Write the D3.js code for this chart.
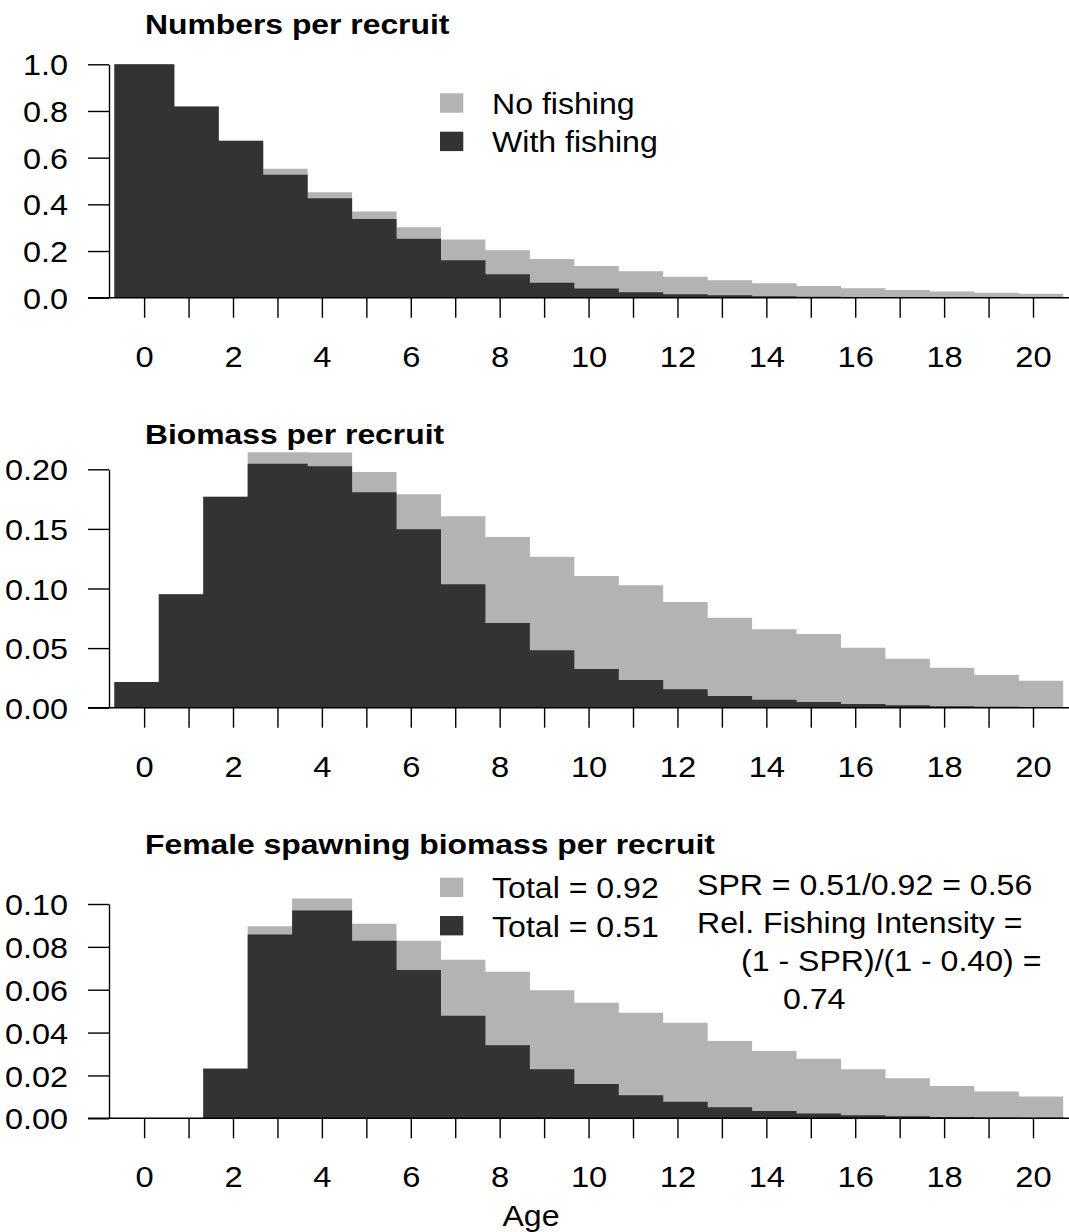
<!DOCTYPE html>
<html>
<head>
<meta charset="utf-8">
<script src="https://cdn.jsdelivr.net/npm/d3@7"></script>
<style>
  html, body { margin: 0; padding: 0; background: #ffffff; }
  svg { display: block; font-family: "Liberation Sans", Arial, Helvetica, sans-serif; }
</style>
</head>
<body>
<svg id="chart" width="1069" height="1232"></svg>
<script>
// ---------------- DATA ----------------
const ages = [0,1,2,3,4,5,6,7,8,9,10,11,12,13,14,15,16,17,18,19,20];

const numbersNoFishing = [1.000, 0.819, 0.672, 0.552, 0.452, 0.369, 0.302, 0.249, 0.203, 0.166, 0.136,
                          0.113, 0.090, 0.075, 0.062, 0.050, 0.040, 0.033, 0.027, 0.021, 0.017];
const numbersFishing   = [1.000, 0.819, 0.672, 0.527, 0.426, 0.337, 0.253, 0.160, 0.100, 0.064, 0.039,
                          0.023, 0.015, 0.010, 0.006, 0.004, 0.0025, 0.0015, 0.0010, 0.0007, 0.0005];

const biomassNoFishing = [0.0216, 0.0951, 0.1770, 0.2147, 0.2143, 0.1977, 0.1790, 0.1606, 0.1432, 0.1267, 0.1105,
                          0.1027, 0.0887, 0.0755, 0.0658, 0.0618, 0.0503, 0.0411, 0.0336, 0.0274, 0.0227];
const biomassFishing   = [0.0216, 0.0951, 0.1770, 0.2047, 0.2025, 0.1807, 0.1497, 0.1035, 0.0711, 0.0481, 0.0325,
                          0.0232, 0.0154, 0.0098, 0.0067, 0.0048, 0.0030, 0.0020, 0.0013, 0.0009, 0.0006];

const spawnNoFishing   = [0, 0, 0.0233, 0.0896, 0.1026, 0.0908, 0.0829, 0.0740, 0.0684, 0.0597, 0.0539,
                          0.0493, 0.0446, 0.0361, 0.0314, 0.0278, 0.0229, 0.0187, 0.0151, 0.0125, 0.0102];
const spawnFishing     = [0, 0, 0.0231, 0.0858, 0.0970, 0.0829, 0.0692, 0.0479, 0.0341, 0.0229, 0.0160,
                          0.0108, 0.0077, 0.0051, 0.0034, 0.0022, 0.0014, 0.0009, 0.0006, 0.0004, 0.0003];

const yTicksNumbers = [0, 0.2, 0.4, 0.6, 0.8, 1.0];
const yTicksBiomass = [0, 0.05, 0.10, 0.15, 0.20];
const yTicksSpawn   = [0, 0.02, 0.04, 0.06, 0.08, 0.10];
const xTickLabels   = [0, 2, 4, 6, 8, 10, 12, 14, 16, 18, 20];

const titles = ["Numbers per recruit", "Biomass per recruit", "Female spawning biomass per recruit"];
const legend1 = ["No fishing", "With fishing"];
const legend3 = ["Total = 0.92", "Total = 0.51"];
const sprText = ["SPR = 0.51/0.92 = 0.56", "Rel. Fishing Intensity =", "(1 - SPR)/(1 - 0.40) =", "0.74"];
const xAxisTitle = "Age";

// ---------------- STYLE / LAYOUT ----------------
const GRAY = "#b3b3b3", DARK = "#333333";
const W = 1069, H = 1232;
const svg = d3.select("#chart");
svg.append("rect").attr("width", W).attr("height", H).attr("fill", "#fff");

const x = d3.scaleLinear().domain([-0.79, 20.81]).range([109, 1069]);

function txt(g, px, py, s, o = {}) {
  const size = o.size || 30, sx = o.sx || 1.07;
  return g.append("text")
    .attr("transform", `translate(${px},${py}) scale(${sx},1)`)
    .attr("font-size", size)
    .attr("font-weight", o.weight || "normal")
    .attr("text-anchor", o.anchor || "start")
    .attr("fill", "#000")
    .text(s);
}

const panels = [
  { noF: numbersNoFishing, f: numbersFishing, ticks: yTicksNumbers, fmt: d3.format(".1f"),
    y0: 297.7, yTopTick: 64.3, tickMax: 1.0, clipTop: 42.3, titleY: 34 },
  { noF: biomassNoFishing, f: biomassFishing, ticks: yTicksBiomass, fmt: d3.format(".2f"),
    y0: 707.7, yTopTick: 469.3, tickMax: 0.20, clipTop: 452.3, titleY: 444 },
  { noF: spawnNoFishing, f: spawnFishing, ticks: yTicksSpawn, fmt: d3.format(".2f"),
    y0: 1118.3, yTopTick: 904, tickMax: 0.10, clipTop: 862.9, titleY: 854 }
];

const AXW = 1.4;

panels.forEach((p, k) => {
  const y = d3.scaleLinear().domain([0, p.tickMax]).range([p.y0, p.yTopTick]);
  const g = svg.append("g");

  const clipId = "clip" + k;
  svg.append("clipPath").attr("id", clipId)
    .append("rect").attr("x", 109).attr("y", p.clipTop).attr("width", W - 109).attr("height", p.y0 - p.clipTop);

  // bar edges (peak bar slightly wider, as in the original rendering)
  const peak = p.f.indexOf(d3.max(p.f));
  const edge = j => ages[0] - 0.5 + j + (j <= peak ? -0.17 : 0.18);

  // step polygons: one per series, built from per-age values
  const stepPts = vals => ages.flatMap((a, i) => [[edge(i), vals[i]], [edge(i + 1), vals[i]]]);
  const area = d3.area().x(d => x(d[0])).y0(y(0)).y1(d => y(d[1]));

  const bars = g.append("g").attr("clip-path", `url(#${clipId})`);
  [[p.noF, GRAY], [p.f, DARK]].forEach(([vals, col]) => {
    bars.append("path").datum(stepPts(vals)).attr("d", area).attr("fill", col);
  });

  // baseline
  g.append("line").attr("x1", 88).attr("x2", W).attr("y1", p.y0).attr("y2", p.y0)
    .attr("stroke", "#000").attr("stroke-width", AXW);

  // y axis
  const ya = g.append("g").attr("transform", `translate(109,0)`)
    .call(d3.axisLeft(y).tickValues(p.ticks).tickSize(21).tickSizeOuter(0).tickFormat(p.fmt));
  ya.select(".domain").attr("stroke", "#000").attr("stroke-width", AXW);
  ya.selectAll(".tick line").attr("stroke", "#000").attr("stroke-width", AXW);
  ya.selectAll(".tick text")
    .attr("x", 0).attr("dy", null).attr("y", 0)
    .attr("transform", "translate(-41,10.6) scale(1.08,1)")
    .attr("font-size", 30).attr("font-family", null).attr("fill", "#000");

  // x axis
  const xa = g.append("g").attr("transform", `translate(0,${p.y0})`)
    .call(d3.axisBottom(x).tickValues(ages).tickSize(20).tickSizeOuter(0)
      .tickFormat(d => xTickLabels.includes(d) ? d : ""));
  xa.select(".domain").remove();
  xa.selectAll(".tick line").attr("stroke", "#000").attr("stroke-width", AXW);
  xa.selectAll(".tick text")
    .attr("y", 69).attr("dy", null)
    .attr("transform", "scale(1.09,1)")
    .attr("font-size", 30).attr("font-family", null).attr("fill", "#000");

  // title
  txt(g, 145, p.titleY, titles[k], { size: 27, weight: "bold", sx: 1.18 });
});

// legend panel 1
const lg = svg.append("g");
[[GRAY, 93.3, 114], [DARK, 131.7, 151.7]].forEach(([c, ry, ty], i) => {
  lg.append("rect").attr("x", 440).attr("y", ry).attr("width", 23.3).attr("height", 19.4).attr("fill", c);
  txt(lg, 492, ty, legend1[i]);
});

// legend panel 3
[[GRAY, 877.7, 898.3], [DARK, 916, 936.7]].forEach(([c, ry, ty], i) => {
  lg.append("rect").attr("x", 440).attr("y", ry).attr("width", 23.3).attr("height", 19.4).attr("fill", c);
  txt(lg, 492, ty, legend3[i]);
});

// SPR annotation
const sprPos = [[697, 894.5], [697, 932.5], [741, 970.5], [783, 1009]];
sprText.forEach((s, i) => txt(lg, sprPos[i][0], sprPos[i][1], s));

// x axis title
txt(lg, 531, 1226, xAxisTitle, { anchor: "middle" });
</script>
</body>
</html>
